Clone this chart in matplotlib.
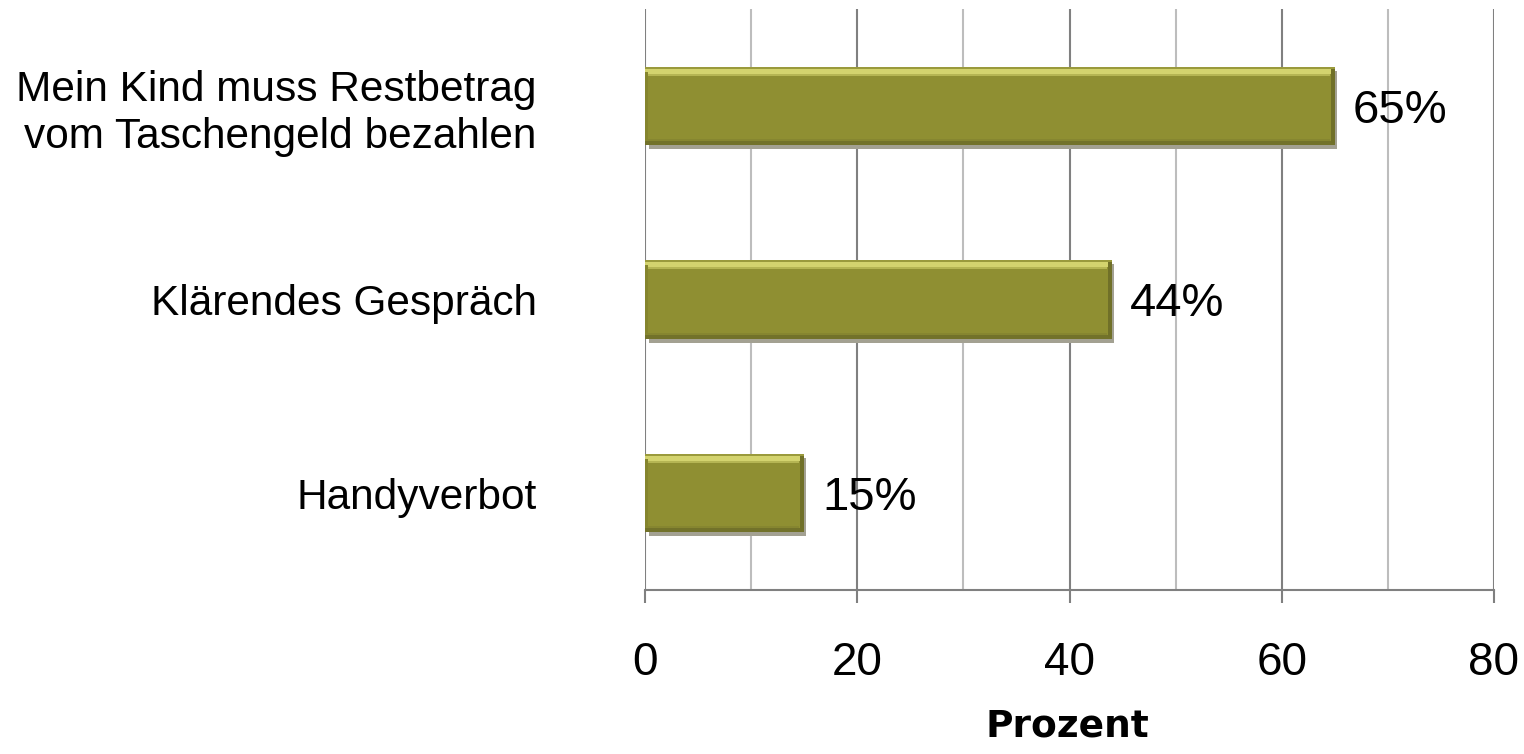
import numpy as np
import matplotlib.pyplot as plt
from matplotlib.ticker import MultipleLocator

# Data
categories = ['Mein Kind muss Restbetrag\nvom Taschengeld bezahlen',
              'Klärendes Gespräch',
              'Handyverbot']
values = [65, 44, 15]
value_labels = ['65%', '44%', '15%']

plt.rcParams['font.family'] = ['Liberation Sans', 'DejaVu Sans']

fig = plt.figure(figsize=(15.24, 7.54), dpi=100)
ax = fig.add_axes([645 / 1524, 1 - 590 / 754, 849 / 1524, 581 / 754])

pos = np.arange(len(categories))[::-1]
bar_h = 0.405
py = 3 / 581    # one pixel in y data units
px = 80 / 849   # one pixel in x data units
vals = np.array(values)

# shadow
ax.barh(pos - 4 * py, vals - 2 * px, bar_h, left=4 * px, color='#a3a192',
        zorder=2)
# main body
ax.barh(pos, vals, bar_h, color='#8f8f32', zorder=3)
# bevel: top highlight, bottom and right dark edges
top = pos + bar_h / 2
bot = pos - bar_h / 2
ax.barh(top - 1 * py, vals, 2 * py, color='#9a9a3c', zorder=4)
ax.barh(top - 4.5 * py, vals - 3 * px, 5 * py, color='#d3d36e', zorder=4)
ax.barh(top - 8 * py, vals - 5 * px, 2 * py, color='#b5b553', zorder=4)
ax.barh(bot + 5 * py, vals - 5 * px, 2 * py, color='#868630', zorder=4)
ax.barh(bot + 2 * py, vals, 4 * py, color='#72722a', zorder=4)
ax.barh(pos, 4 * px, bar_h - 4 * py, left=vals - 4 * px, color='#707028',
        zorder=4)
ax.barh(pos, 3 * px, bar_h - 10 * py, left=0, color='#85852e', zorder=4)

for p, v, lab in zip(pos, values, value_labels):
    ax.annotate(lab, (v, p), xytext=(13, 0), textcoords='offset points',
                va='center_baseline', ha='left', fontsize=34, zorder=5)

ax.set_xlim(0, 80)
ax.set_ylim(-0.5, 2.5)
ax.set_yticks(pos)
ax.set_yticklabels(categories, fontsize=30.5, ha='right', multialignment='right')
ax.xaxis.set_major_locator(MultipleLocator(20))
ax.xaxis.set_minor_locator(MultipleLocator(10))
ax.grid(axis='x', which='major', color='#808080', linewidth=1.5, zorder=0)
ax.grid(axis='x', which='minor', color='#bdbdbd', linewidth=1.5, zorder=0)
ax.set_axisbelow(True)

for side in ['top', 'left', 'right']:
    ax.spines[side].set_visible(False)
ax.spines['bottom'].set_color('#808080')
ax.spines['bottom'].set_linewidth(1.5)

ax.tick_params(axis='y', length=0, pad=78)
ax.tick_params(axis='x', which='major', length=9.5, width=1.5, color='#808080',
               labelsize=33, pad=27)
ax.tick_params(axis='x', which='minor', length=0)

ax.set_xlabel('Prozent', fontsize=27, fontweight='bold', family='DejaVu Sans',
              va='baseline')
ax.xaxis.set_label_coords(0.497, -0.2526)

fig.savefig('out.png', dpi=100)
